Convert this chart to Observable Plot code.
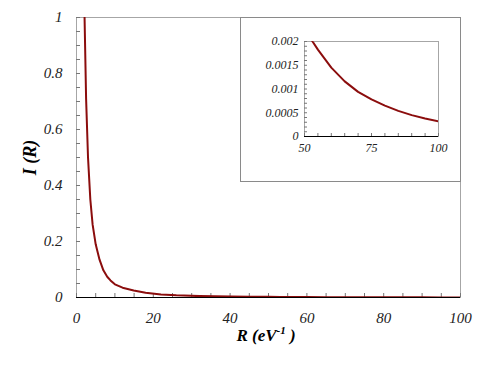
<!DOCTYPE html>
<html><head><meta charset="utf-8">
<script src="https://cdn.jsdelivr.net/npm/d3@7"></script>
<script src="https://cdn.jsdelivr.net/npm/@observablehq/plot@0.6"></script>
<style>
body{margin:0;background:#fff}
#wrap{position:relative;width:479px;height:368px;overflow:hidden}
#wrap svg{position:absolute;}
</style>
</head><body><div id="wrap"></div>
<script>
// Data
const R = [2.1, 2.5, 3, 3.6, 4.2, 5, 5.4, 6, 7, 8, 8.85, 10, 12, 14.9, 18, 22, 26, 32, 40, 45, 50, 53, 55, 60, 65, 70, 75, 80, 85, 90, 95, 100];
const I = [1.0, 0.71, 0.50, 0.35, 0.26, 0.19, 0.168, 0.135, 0.097, 0.074, 0.061, 0.047, 0.035, 0.025, 0.017, 0.011, 0.0078, 0.005, 0.0035, 0.0029, 0.0023, 0.002, 0.00183, 0.00145, 0.00116, 0.00094, 0.00078, 0.00065, 0.00054, 0.00045, 0.00038, 0.00032];
const mainXTicks = [0, 20, 40, 60, 80, 100];
const mainYTicks = [0, 0.2, 0.4, 0.6, 0.8, 1];
const insetXTicks = [50, 75, 100];
const insetYTicks = [0, 0.0005, 0.001, 0.0015, 0.002];

const data = R.map((r, i) => ({R: r, I: I[i]}));
const font = "'Times New Roman', 'Liberation Serif', 'DejaVu Serif', serif";
const curveColor = "#8b0d0d";
const frameColor = "#a6a6a6";

function serifItalic(svg) {
  d3.select(svg).selectAll("text")
    .attr("font-family", font).style("font-family", font)
    .attr("font-style", "italic").style("font-style", "italic");
}

const main = Plot.plot({
  width: 479, height: 368,
  marginLeft: 76, marginRight: 19, marginTop: 17, marginBottom: 71,
  style: {fontFamily: font, background: "transparent", color: "#222"},
  x: {domain: [0, 100]},
  y: {domain: [0, 1]},
  marks: [
    Plot.frame({stroke: frameColor}),
    Plot.axisY(d3.range(0, 1.0001, 0.05), {tickSize: -4, tickFormat: () => "", label: null, stroke: "#777"}),
    Plot.axisX(d3.range(0, 100.001, 5), {tickSize: -4, tickFormat: () => "", label: null, stroke: "#777"}),
    Plot.axisY(mainYTicks, {tickSize: 0, tickPadding: 14, fontSize: 15, label: null, tickFormat: d => String(d)}),
    Plot.axisX(mainXTicks, {tickSize: 0, tickPadding: 15, fontSize: 15, label: null, tickFormat: d => String(d)}),
    Plot.ruleY([0], {stroke: "black", strokeWidth: 1.2}),
    Plot.line(data, {x: "R", y: "I", stroke: curveColor, strokeWidth: 2, clip: true}),
    Plot.text(["I (R)"], {frameAnchor: "left", dx: -46, rotate: -90, textAnchor: "middle", fontSize: 18, fontWeight: "bold", fill: "black"})
  ]
});
const ms = d3.select(main);
const xt = ms.append("text")
  .attr("x", 266).attr("y", 341)
  .attr("text-anchor", "middle")
  .attr("font-size", 17)
  .style("font-weight", "bold")
  .attr("fill", "black");
xt.append("tspan").text("R (eV");
xt.append("tspan").attr("dy", -7).attr("font-size", 11).text("-1");
xt.append("tspan").attr("dy", 7).text(" )");
serifItalic(main);
main.style.left = "0px"; main.style.top = "0px";
document.getElementById("wrap").appendChild(main);

const insetData = data.filter(d => d.R >= 50);
const inset = Plot.plot({
  width: 221, height: 165,
  marginLeft: 64, marginRight: 23, marginTop: 24, marginBottom: 46,
  style: {fontFamily: font, background: "white", color: "#222"},
  x: {domain: [50, 100]},
  y: {domain: [0, 0.002]},
  marks: [
    Plot.frame({stroke: frameColor}),
    Plot.axisY(d3.range(0, 0.0020001, 0.0001), {tickSize: -3, tickFormat: () => "", label: null, stroke: "#777"}),
    Plot.axisX(d3.range(50, 100.001, 5), {tickSize: -3, tickFormat: () => "", label: null, stroke: "#777"}),
    Plot.axisY(insetYTicks, {tickSize: 0, tickPadding: 6, fontSize: 12, label: null, tickFormat: d => String(d)}),
    Plot.axisX(insetXTicks, {tickSize: 0, tickPadding: 7, fontSize: 12, label: null, tickFormat: d => String(d)}),
    Plot.ruleY([0], {stroke: "black"}),
    Plot.line(insetData, {x: "R", y: "I", stroke: curveColor, strokeWidth: 2, clip: true})
  ]
});
serifItalic(inset);
inset.style.left = "240px"; inset.style.top = "17px";
inset.style.outline = "1px solid #8a8a8a";
inset.style.outlineOffset = "-1px";
document.getElementById("wrap").appendChild(inset);
</script>
</body></html>
